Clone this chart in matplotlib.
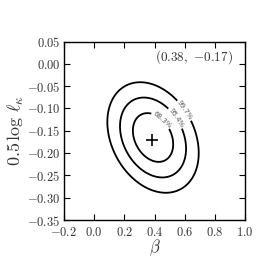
import numpy as np
import matplotlib
matplotlib.use('Agg')
import matplotlib.pyplot as plt
from matplotlib.ticker import FuncFormatter

plt.rcParams['mathtext.fontset'] = 'cm'
plt.rcParams['font.family'] = 'serif'
plt.rcParams['font.serif'] = ['DejaVu Serif']

# Data
best_beta = 0.38
best_logl = -0.17
center_beta = 0.39
center_logl = -0.165
sigma_beta = 0.088
sigma_logl = 0.036
rho = -0.28
level_names = ['68.3%', '95.4%', '99.7%']
delta_chi2 = [2.30, 6.18, 11.83]
label_pos = [(0.436, -0.129), (0.557, -0.118), (0.634, -0.096)]
xticks = [-0.2, 0.0, 0.2, 0.4, 0.6, 0.8, 1.0]
yticks = [-0.35, -0.30, -0.25, -0.20, -0.15, -0.10, -0.05, 0.00, 0.05]

fig = plt.figure(figsize=(2.58, 2.58), dpi=100)
ax = fig.add_axes([0.248, 0.147, 0.702, 0.692])

b = np.linspace(-0.2, 1.0, 500)
l = np.linspace(-0.35, 0.05, 500)
B, L = np.meshgrid(b, l)
u = (B - center_beta) / sigma_beta
v = (L - center_logl) / sigma_logl
chi2 = (u**2 - 2 * rho * u * v + v**2) / (1 - rho**2)

cs = ax.contour(B, L, chi2, levels=delta_chi2, colors='k', linewidths=1.3)
fmt = {lev: name for lev, name in zip(cs.levels, level_names)}
txts = ax.clabel(cs, fmt=fmt, fontsize=5, manual=label_pos, inline=True, inline_spacing=1)
for t in txts:
    t.set_color('#555555')
    t.set_family('DejaVu Sans')
ax.plot([best_beta], [best_logl], marker='+', color='k', ms=8, mew=1.2)

ax.text(0.935, 0.914, r'$(%.2f,\ {-}%.2f)$' % (best_beta, abs(best_logl)), transform=ax.transAxes,
        ha='right', va='center', fontsize=9.5, color='#333333')

ax.set_xlim(-0.2, 1.0)
ax.set_ylim(-0.35, 0.05)
ax.set_xticks(xticks)
ax.set_yticks(yticks)
ax.xaxis.set_major_formatter(FuncFormatter(lambda x, p: r'$%.1f$' % x))
ax.yaxis.set_major_formatter(FuncFormatter(lambda y, p: r'$%.2f$' % y))
ax.tick_params(direction='in', top=True, right=True, labelsize=9, length=4, width=0.8,
               labelcolor='#333333', pad=2.5)
ax.tick_params(axis='x', pad=4.5)
for lab in ax.get_yticklabels():
    lab.set_verticalalignment('center_baseline')
for s in ax.spines.values():
    s.set_linewidth(1.0)
ax.set_xlabel(r'$\beta$', fontsize=12, color='#333333', labelpad=-1)
ax.set_ylabel(r'$0.5\,\log\,\ell_\kappa$', fontsize=13, color='#333333', labelpad=1)

fig.savefig('out.png', dpi=100)
